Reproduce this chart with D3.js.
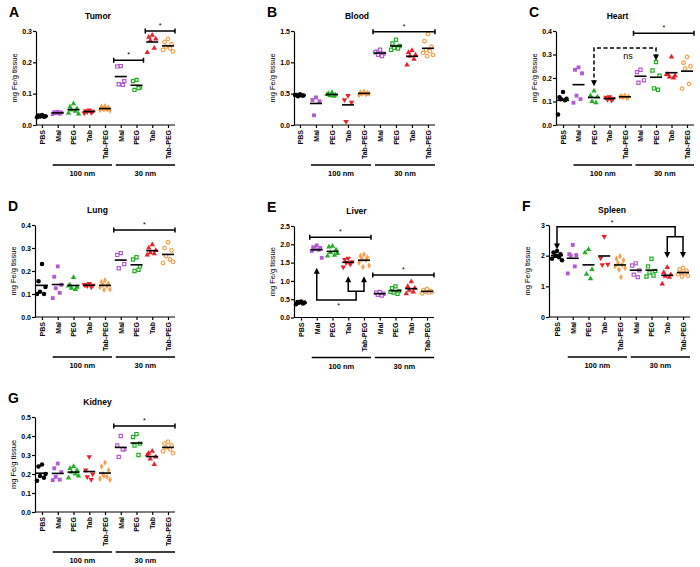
<!DOCTYPE html>
<html><head><meta charset="utf-8">
<script src="https://cdn.jsdelivr.net/npm/d3@7"></script>
<style>body{margin:0;background:#fff} text{font-family:Arial,"Liberation Sans",sans-serif}</style>
</head><body><svg id="c" width="700" height="567"></svg>
<script>
// ---------- data ----------
const categories = ["PBS","Mal100","PEG100","Tab100","TabPEG100","Mal30","PEG30","Tab30","TabPEG30"];
const catLabels  = ["PBS","Mal","PEG","Tab","Tab-PEG","Mal","PEG","Tab","Tab-PEG"];
const groupLabels = ["100 nm","30 nm"];
const groupRanges = [["Mal100","TabPEG100"],["Mal30","TabPEG30"]];

const tumor = [
  [0.032,0.03,0.028,0.027,0.026,0.025],
  [0.042,0.041,0.04,0.038,0.036,0.035],
  [0.068,0.058,0.052,0.048,0.044,0.038,0.035],
  [0.048,0.045,0.044,0.042,0.04,0.038],
  [0.06,0.058,0.055,0.052,0.05,0.048,0.046,0.05],
  [0.188,0.187,0.14,0.13,0.128],
  [0.144,0.14,0.12,0.112,0.118],
  [0.287,0.28,0.275,0.27,0.245,0.232],
  [0.275,0.265,0.258,0.25,0.245,0.24,0.235]
];
const blood = [
  [0.49,0.48,0.47,0.46,0.47,0.48],
  [0.44,0.4,0.38,0.155],
  [0.52,0.5,0.48,0.47,0.46,0.49],
  [0.47,0.4,0.36,0.055],
  [0.53,0.52,0.51,0.5,0.49,0.48,0.5],
  [1.2,1.17,1.14,1.12,1.1,1.16],
  [1.36,1.3,1.26,1.23,1.22,1.2],
  [1.19,1.16,1.12,1.1,1.05,0.96],
  [1.45,1.34,1.25,1.2,1.18,1.15,1.12,1.1]
];
const heart = [
  [0.14,0.118,0.112,0.11,0.105,0.045],
  [0.245,0.235,0.22,0.125,0.11,0.095],
  [0.145,0.125,0.12,0.1,0.095],
  [0.12,0.118,0.112,0.108,0.105],
  [0.125,0.122,0.12,0.118,0.115,0.12],
  [0.235,0.225,0.19,0.18],
  [0.268,0.232,0.21,0.156,0.15],
  [0.29,0.215,0.21,0.205,0.2,0.215],
  [0.29,0.265,0.25,0.24,0.175,0.155]
];
const lung = [
  [0.23,0.155,0.13,0.11,0.1,0.1],
  [0.22,0.175,0.14,0.125,0.105,0.082],
  [0.172,0.14,0.13,0.125,0.12,0.135],
  [0.145,0.14,0.138,0.135,0.13,0.14],
  [0.16,0.152,0.145,0.14,0.135,0.13,0.12,0.118],
  [0.278,0.27,0.23,0.212],
  [0.26,0.25,0.22,0.2,0.205],
  [0.315,0.3,0.29,0.28,0.275,0.27],
  [0.325,0.3,0.29,0.265,0.25,0.235,0.24]
];
const liver = [
  [0.44,0.42,0.41,0.4,0.38,0.36],
  [1.97,1.92,1.9,1.87,1.85,1.82,1.63],
  [1.95,1.93,1.85,1.78,1.7,1.68,1.75],
  [1.62,1.58,1.52,1.5,1.45,1.38],
  [1.72,1.68,1.64,1.6,1.57,1.5,1.42,1.38],
  [0.7,0.68,0.65,0.62,0.6],
  [0.85,0.8,0.72,0.68,0.65,0.7],
  [0.98,0.85,0.8,0.75,0.7,0.65],
  [0.78,0.75,0.72,0.7,0.68,0.66,0.7]
];
const spleen = [
  [2.15,2.1,2.05,2.0,1.95,1.9,1.85,2.0],
  [2.35,2.05,2.02,2.0,1.65,1.42],
  [2.2,2.1,1.55,1.4,1.25],
  [2.62,1.92,1.72,1.7],
  [1.98,1.9,1.85,1.75,1.7,1.65,1.6,1.55,1.3],
  [1.75,1.68,1.52,1.38,1.3],
  [1.9,1.65,1.5,1.45,1.35,1.32],
  [1.62,1.45,1.38,1.33,1.3,1.08],
  [1.6,1.55,1.5,1.45,1.42,1.4,1.35,1.32]
];
const kidney = [
  [0.25,0.24,0.2,0.19,0.18,0.165],
  [0.255,0.23,0.21,0.185,0.17,0.168],
  [0.24,0.23,0.22,0.21,0.2,0.18,0.19],
  [0.29,0.22,0.2,0.185,0.17],
  [0.26,0.24,0.22,0.2,0.185,0.175,0.17,0.19],
  [0.4,0.35,0.33,0.29,0.33],
  [0.41,0.395,0.36,0.35,0.3],
  [0.32,0.31,0.29,0.28,0.25,0.3],
  [0.37,0.36,0.35,0.34,0.33,0.32,0.31]
];

const ticks01to03 = [0,0.1,0.2,0.3];
const ticksBlood = [0,0.5,1.0,1.5];
const ticks01to04 = [0,0.1,0.2,0.3,0.4];
const ticksLiver = [0,0.5,1.0,1.5,2.0,2.5];
const ticksSpleen = [0,1,2,3];
const ticksKidney = [0,0.1,0.2,0.3,0.4,0.5];

const sigTumor = [["Mal30","PEG30",0.207],["Tab30","TabPEG30",0.30]];
const sigBlood = [["Mal30","TabPEG30",1.49]];
const sigHeart = [["Mal30","TabPEG30",0.39]];
const sigLung = [["Mal30","TabPEG30",0.378]];
const sigLiver = [["Mal100","TabPEG100",2.19],["Mal30","TabPEG30",1.16]];
const sigKidney = [["Mal30","TabPEG30",0.453]];

// ---------- styles ----------
const colors = ["#000000","#b25bd3","#22b024","#e8222a","#f6a04d","#b25bd3","#22b024","#e8222a","#f6a04d"];
const shapes = [d3.symbolCircle,d3.symbolSquare,d3.symbolTriangle,"tdown",d3.symbolDiamond,d3.symbolSquare,d3.symbolSquare,d3.symbolTriangle,d3.symbolCircle];
const openSym = [false,false,false,false,false,true,true,false,true];
const symSize = [16,15,13,13,12,10,10,13,10];
const jit = [0,-3.5,3.5,-2,2,-5,5,-1,1];

const svg = d3.select("#c");

function arrowHead(g, x, yTip, dir){ // dir=1 pointing down, -1 pointing up
  g.append("path").attr("d", `M${x},${yTip} L${x-3},${yTip - dir*6} L${x+3},${yTip - dir*6} Z`).attr("fill","#000");
}

function panel(cfg){
  const g = svg.append("g");
  const y = d3.scaleLinear().domain(cfg.domain).range([cfg.bottom, cfg.top]);
  const x = d3.scalePoint().domain(categories).range([cfg.x0, cfg.x1]);
  cfg.xs = x; cfg.ys = y;
  const ya = g.append("g").attr("transform",`translate(${cfg.ax},0)`)
    .call(d3.axisLeft(y).tickValues(cfg.ticks).tickFormat(d3.format(cfg.fmt)).tickSize(3).tickSizeOuter(0));
  ya.select(".domain").attr("stroke-width",1.2);
  ya.selectAll(".tick line").attr("stroke-width",1.2);
  ya.selectAll("text").attr("font-size",7).attr("font-weight","bold").attr("x",-4);
  const xa = g.append("g").attr("transform",`translate(0,${cfg.bottom})`)
    .call(d3.axisBottom(x).tickSize(3).tickSizeOuter(0).tickFormat((d,i)=>catLabels[i]));
  xa.select(".domain").attr("d",`M${cfg.ax},0H${cfg.x1+7}`).attr("stroke-width",1.2);
  xa.selectAll(".tick line").attr("stroke-width",1.2);
  xa.selectAll("text").attr("font-size",7).attr("font-weight","bold")
    .attr("transform","rotate(-90)").attr("text-anchor","end").attr("x",-5).attr("y",0).attr("dy","0.35em");
  groupRanges.forEach((r,i)=>{
    const xa0 = x(r[0]) - 5, xa1 = x(r[1]) + 7;
    g.append("line").attr("x1",xa0).attr("x2",xa1).attr("y1",cfg.bottom+40).attr("y2",cfg.bottom+40)
      .attr("stroke","#000").attr("stroke-width",1.5);
    g.append("text").attr("x",(xa0+xa1)/2).attr("y",cfg.bottom+51).attr("text-anchor","middle")
      .attr("font-size",7.5).attr("font-weight","bold").text(groupLabels[i]);
  });
  g.append("text").attr("transform",`translate(${cfg.ax-19},${(cfg.top+cfg.bottom)/2}) rotate(-90)`)
    .attr("text-anchor","middle").attr("font-size",7.5).text("mg Fe/g tissue");
  g.append("text").attr("x",(cfg.ax+cfg.x1)/2-4).attr("y",cfg.top-12).attr("text-anchor","middle")
    .attr("font-size",8.5).attr("font-weight","bold").text(cfg.title);
  g.append("text").attr("x",cfg.ax-27).attr("y",cfg.top-14).attr("font-size",14).attr("font-weight","bold").text(cfg.letter);
  cfg.data.forEach((vals,ci)=>{
    const cx = x(categories[ci]);
    const sym = shapes[ci]==="tdown" ? d3.symbol(d3.symbolTriangle, symSize[ci]) : d3.symbol(shapes[ci], symSize[ci]);
    vals.forEach((v,i)=>{
      const p = g.append("path").attr("d", sym())
        .attr("transform", `translate(${cx + jit[i % jit.length]},${y(v)})` + (shapes[ci]==="tdown" ? " rotate(180)" : ""));
      if(openSym[ci]) p.attr("fill","#fff").attr("stroke",colors[ci]).attr("stroke-width",1.2);
      else p.attr("fill",colors[ci]);
    });
    const m = d3.mean(vals);
    g.append("line").attr("x1",cx-6).attr("x2",cx+6).attr("y1",y(m)).attr("y2",y(m)).attr("stroke","#000").attr("stroke-width",1.6);
  });
  (cfg.sig||[]).forEach(s=>{
    const a = x(s[0]) - 7, b = x(s[1]) + 7, yy = y(s[2]);
    g.append("path").attr("d",`M${a},${yy-2.5}V${yy+2.5}M${a},${yy}H${b}M${b},${yy-2.5}V${yy+2.5}`)
      .attr("stroke","#000").attr("stroke-width",1.5).attr("fill","none");
    g.append("text").attr("x",(a+b)/2).attr("y",yy-3).attr("text-anchor","middle").attr("font-size",7).text("*");
  });
  return g;
}

const pA = panel({letter:"A",title:"Tumor",ax:36,x0:42,x1:168,top:31,bottom:125,domain:[0,0.3],ticks:ticks01to03,fmt:".1f",data:tumor,sig:sigTumor});
const pB = panel({letter:"B",title:"Blood",ax:294,x0:300,x1:428,top:31,bottom:125,domain:[0,1.5],ticks:ticksBlood,fmt:".1f",data:blood,sig:sigBlood});
const cC = {letter:"C",title:"Heart",ax:556,x0:563,x1:687,top:31,bottom:125,domain:[0,0.4],ticks:ticks01to04,fmt:".1f",data:heart,sig:sigHeart};
const pC = panel(cC);
const pD = panel({letter:"D",title:"Lung",ax:35,x0:42,x1:168,top:225,bottom:317,domain:[0,0.4],ticks:ticks01to04,fmt:".1f",data:lung,sig:sigLung});
const cE = {letter:"E",title:"Liver",ax:294,x0:301,x1:427,top:226,bottom:317.5,domain:[0,2.5],ticks:ticksLiver,fmt:".1f",data:liver,sig:sigLiver};
const pE = panel(cE);
const cF = {letter:"F",title:"Spleen",ax:549,x0:557,x1:683,top:225,bottom:317,domain:[0,3],ticks:ticksSpleen,fmt:"d",data:spleen,sig:[]};
const pF = panel(cF);
const pG = panel({letter:"G",title:"Kidney",ax:35,x0:42,x1:168,top:417,bottom:512,domain:[0,0.5],ticks:ticksKidney,fmt:".1f",data:kidney,sig:sigKidney});

{
  const x = cC.xs, y = cC.ys, a = x("PEG100"), b = x("PEG30");
  pC.append("path").attr("d",`M${a},${y(0.175)}V${y(0.328)}H${b}V${y(0.285)}`)
    .attr("fill","none").attr("stroke","#000").attr("stroke-width",1.5).attr("stroke-dasharray","4,2.5");
  arrowHead(pC, a, y(0.165), 1); arrowHead(pC, b, y(0.275), 1);
  pC.append("text").attr("x",x("TabPEG100")+3).attr("y",y(0.328)+11).attr("text-anchor","middle").attr("font-size",9).text("ns");
}
{
  const x = cE.xs, y = cE.ys, m = x("Mal100"), t = x("Tab100"), tp = x("TabPEG100"), mid = (t+tp)/2;
  pE.append("path").attr("d",`M${m},${y(1.28)}V${y(0.48)}H${mid}V${y(0.72)}M${t},${y(1.05)}V${y(0.72)}H${tp}V${y(1.05)}`)
    .attr("fill","none").attr("stroke","#000").attr("stroke-width",1.5);
  arrowHead(pE, m, y(1.36), -1); arrowHead(pE, t, y(1.13), -1); arrowHead(pE, tp, y(1.13), -1);
  pE.append("text").attr("x",x("PEG100")+6).attr("y",y(0.25)).attr("text-anchor","middle").attr("font-size",7).text("*");
}
{
  const x = cF.xs, y = cF.ys, p = x("PBS"), t = x("Tab30"), tp = x("TabPEG30"), mid = (t+tp)/2;
  pF.append("path").attr("d",`M${p},${y(2.3)}V${y(2.94)}H${mid}V${y(2.62)}M${t},${y(2.0)}V${y(2.62)}H${tp}V${y(2.0)}`)
    .attr("fill","none").attr("stroke","#000").attr("stroke-width",1.5);
  arrowHead(pF, p, y(2.2), 1); arrowHead(pF, t, y(1.92), 1); arrowHead(pF, tp, y(1.92), 1);
  pF.append("text").attr("x",(p+tp)/2-8).attr("y",y(2.94)-2).attr("text-anchor","middle").attr("font-size",7).text("*");
}
</script></body></html>
